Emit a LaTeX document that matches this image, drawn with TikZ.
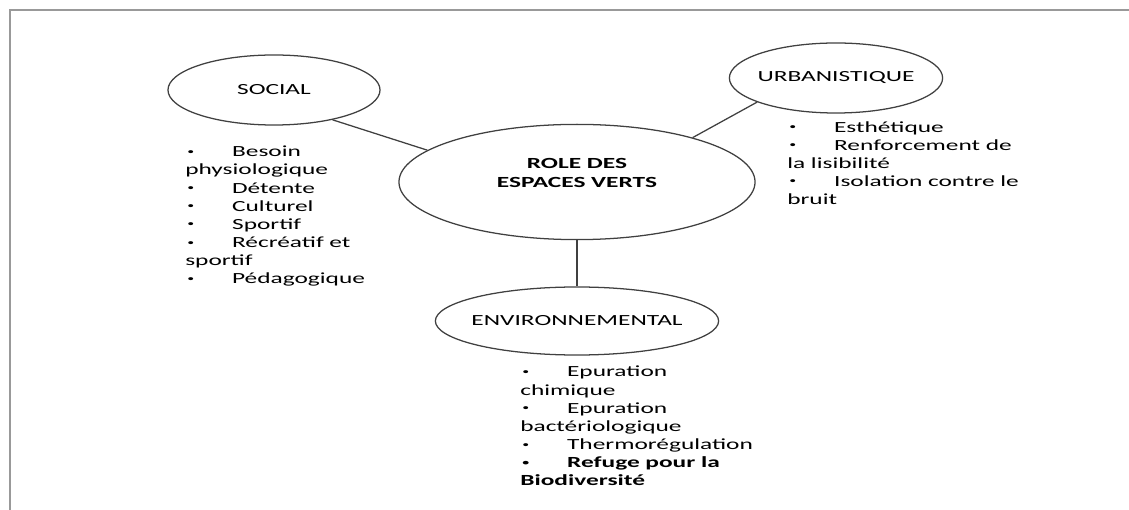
\documentclass[tikz,border=0pt]{standalone}
\usepackage{fontspec}
\setmainfont{Carlito}[FakeStretch=1.64]
\usepackage{tikz}
\usetikzlibrary{shapes.geometric}
\newcommand\puce{\hspace*{1.5pt}\makebox[31.8pt][l]{%
  \raisebox{1.6pt}{\fontsize{6pt}{6pt}\selectfont\textbullet}}}

\begin{document}
\begin{tikzpicture}[
  x=0.025cm, y=-0.025cm,
  font=\fontsize{11pt}{12.85pt}\selectfont,
  bulle/.style={ellipse, draw=black!75, line width=0.9pt,
    inner xsep=-2mm, inner ysep=0pt, align=center},
  liste/.style={anchor=north west, inner sep=0pt, align=left},
  lien/.style={draw=black!75, line width=0.9pt},
  cadre/.style={draw=black!40, line width=1.6pt}
]
\useasboundingbox (0,0) rectangle (1129,510);
\draw[cadre] (10,510) -- (10,10) -- (1129,10);

\node[bulle, minimum width=5.3cm, minimum height=1.75cm] (social) at (274,90)
  {SOCIAL};
\node[bulle, minimum width=5.33cm, minimum height=1.75cm] (urban) at (836,78)
  {URBANISTIQUE};
\node[bulle, minimum width=8.9cm, minimum height=2.88cm] (role) at (577,182)
  {\textbf{ROLE DES}\\\textbf{ESPACES VERTS}\\\mbox{}};
\node[bulle, minimum width=7.08cm, minimum height=1.7cm] (env) at (577,321)
  {ENVIRONNEMENTAL};

\node[liste] (lsocial) at (185,146)
  {\puce Besoin\\physiologique\\\puce D\'etente\\\puce Culturel\\
   \puce Sportif\\\puce R\'ecr\'eatif et\\sportif\\\puce P\'edagogique};
\node[liste] (lurban) at (787,121)
  {\puce Esth\'etique\\\puce Renforcement de\\la lisibilit\'e\\
   \puce Isolation contre le\\bruit};
\node[liste] (lenv) at (520,366)
  {\puce Epuration\\chimique\\\puce Epuration\\bact\'eriologique\\
   \puce Thermor\'egulation\\\textbf{\puce Refuge pour la}\\
   \textbf{Biodiversit\'e}};

\draw[lien] (social.-27) -- (role.168);
\draw[lien] (urban.-163) -- (role.21);
\draw[lien] (role.south) -- (env.north);
\end{tikzpicture}
\end{document}
